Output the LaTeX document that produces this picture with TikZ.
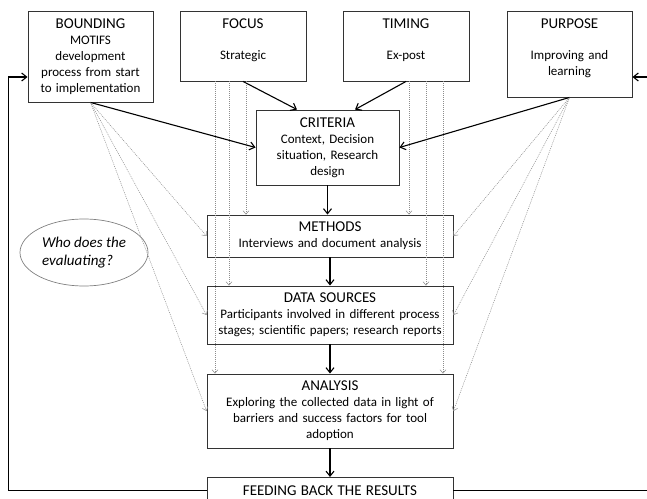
\documentclass[tikz,border=0pt]{standalone}
\usepackage{fontspec}
\setmainfont{Carlito}
\usetikzlibrary{arrows.meta,shapes.geometric,calc}
\newcommand\boxtitle[1]{{\fontsize{15bp}{16bp}\selectfont #1}}
\begin{document}
\begin{tikzpicture}[x=1bp,y=-1bp,
  box/.style={draw=black!80, line width=0.9bp, align=center, inner xsep=0pt, inner ysep=0pt,
    font=\fontsize{13bp}{16bp}\selectfont},
  arr/.style={draw=black, line width=1.1bp, -{Straight Barb[length=5bp,width=8bp]}},
  loopline/.style={draw=black, line width=1.1bp},
  dotarr/.style={draw=black!45, line width=0.5bp, dash pattern=on 1bp off 1bp,
    -{Straight Barb[length=3.5bp,width=6bp]}},
  bubble/.style={ellipse, draw=black!50, line width=0.7bp, align=left, inner sep=0pt,
    font=\fontsize{15bp}{18.5bp}\selectfont\itshape}
]
\useasboundingbox (0,0) rectangle (647,499);
\clip (0,0) rectangle (647,499);

% boxes
\node[box, minimum width=125bp, text width=125bp, minimum height=91bp] (bound) at (90.5,56.5)
  {\boxtitle{BOUNDING}\\MOTIFS\\development\\process from start\\to implementation};
\node[box, minimum width=126bp, text width=126bp, minimum height=70bp] (focus) at (243,46)
  {\boxtitle{FOCUS}\\[15bp]Strategic\\[-3bp]\mbox{}};
\node[box, minimum width=126bp, text width=126bp, minimum height=70bp] (timing) at (406,46)
  {\boxtitle{TIMING}\\[15bp]Ex-post\\[-3bp]\mbox{}};
\node[box, minimum width=125bp, text width=125bp, minimum height=86bp] (purpose) at (569.5,54)
  {\boxtitle{PURPOSE}\\[15bp]Improving and\\learning\\[-3bp]\mbox{}};
\node[box, minimum width=143bp, text width=143bp, minimum height=75bp] (crit) at (327.5,147.5)
  {\boxtitle{CRITERIA}\\Context, Decision\\situation, Research\\design};
\node[box, minimum width=246bp, text width=246bp, minimum height=42bp] (methods) at (330,236)
  {\boxtitle{METHODS}\\Interviews and document analysis};
\node[box, minimum width=246bp, text width=246bp, minimum height=58bp] (data) at (330,315)
  {\boxtitle{DATA SOURCES}\\Participants involved in different process\\stages; scientific papers; research reports};
\node[box, minimum width=246bp, text width=246bp, minimum height=74bp] (analysis) at (330,411)
  {\boxtitle{ANALYSIS}\\Exploring the collected data in light of\\barriers and success factors for tool\\adoption};
\node[box, minimum width=246bp, text width=246bp, minimum height=26bp, anchor=north] (feed) at (330,477)
  {\boxtitle{FEEDING BACK THE RESULTS}};

\node[bubble, minimum width=128bp, minimum height=67bp] (who) at (84,252.5)
  {Who does the\\evaluating?};

% dotted influence arrows
\foreach \t in {methods,data,analysis}{
  \draw[dotarr] (bound.south) -- (\t.west);
  \draw[dotarr] (purpose.south) -- (\t.east);
}
\draw[dotarr] ([xshift=3bp]focus.south) -- ([xshift=3bp]focus.south |- methods.north);
\draw[dotarr] ([xshift=-14bp]focus.south) -- ([xshift=-14bp]focus.south |- data.north);
\draw[dotarr] ([xshift=-28bp]focus.south) -- ([xshift=-28bp]focus.south |- analysis.north);
\draw[dotarr] ([xshift=3bp]timing.south) -- ([xshift=3bp]timing.south |- methods.north);
\draw[dotarr] ([xshift=20bp]timing.south) -- ([xshift=20bp]timing.south |- data.north);
\draw[dotarr] ([xshift=37bp]timing.south) -- ([xshift=37bp]timing.south |- analysis.north);

% main arrows
\draw[arr] (bound.south) -- (crit.west);
\draw[arr] (focus.south) -- ([xshift=-30.5bp]crit.north);
\draw[arr] (timing.south) -- ([xshift=27.5bp]crit.north);
\draw[arr] (purpose.south) -- (crit.east);
\draw[arr] (crit.south) -- (crit.south |- methods.north);
\draw[arr] (methods.south |- methods.south) -- (methods.south |- data.north);
\draw[arr] (data.south) -- (data.south |- analysis.north);
\draw[arr] (analysis.south) -- (analysis.south |- feed.north);

% feedback loops
\coordinate (loopL) at (8.5,0);
\coordinate (loopR) at (665,0);
\coordinate (bin) at ([yshift=-20.5bp]bound.west);
\coordinate (pin) at ([yshift=-23bp]purpose.east);
\draw[arr] (feed.west) -- (loopL |- feed.west) -- (loopL |- bin) -- (bin);
\draw[arr] (feed.east) -- (loopR |- feed.east) -- (loopR |- pin) -- (pin);
\end{tikzpicture}
\end{document}
